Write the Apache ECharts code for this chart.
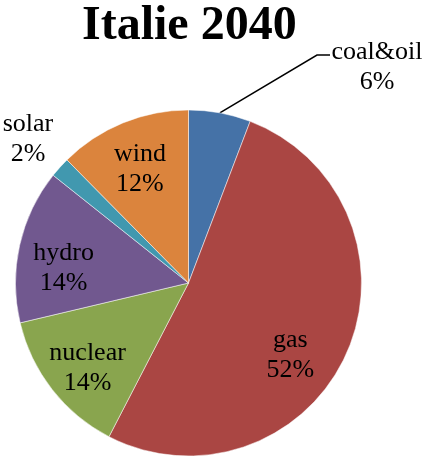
<!DOCTYPE html>
<html>
<head>
<meta charset="utf-8">
<script src="https://cdn.jsdelivr.net/npm/echarts@6/dist/echarts.min.js"></script>
<style>html,body{margin:0;padding:0;background:#fff}#c{width:425px;height:459px}</style>
</head>
<body>
<div id="c"></div>
<script>
var titleText = 'Italie 2040';
var categories = ['coal&oil', 'gas', 'nuclear', 'hydro', 'solar', 'wind'];
var shares = [5.8, 51.8, 13.7, 14.4, 1.9, 12.4];
var colors = ['#4572A7', '#AA4643', '#89A54E', '#71588F', '#4198AF', '#DB843D'];
var outsideLabels = ['coal&oil', 'solar'];

var FONT = '"Liberation Serif", "Times New Roman", serif';
var CX = 188.5, CY = 283, R = 173;

function fmt(p) { return p.name + '\n' + Math.round(p.percent) + '%'; }

var mainData = categories.map(function (c, i) {
  var out = outsideLabels.indexOf(c) >= 0;
  return {
    name: c, value: shares[i],
    itemStyle: { color: colors[i] },
    label: { show: out },
    labelLine: { show: c === 'coal&oil' }
  };
});
var ringData = categories.map(function (c, i) {
  var out = outsideLabels.indexOf(c) >= 0;
  return { name: c, value: shares[i], label: { show: !out } };
});

// small nudges of the inside labels (dx, dy) by data index
var insideNudge = { 1: [-15, 20], 2: [0, 6], 3: [0, 13], 5: [0, 5] };

var chart = echarts.init(document.getElementById('c'), null, { renderer: 'canvas' });
chart.setOption({
  animation: false,
  backgroundColor: '#fff',
  title: {
    text: titleText, left: 77, top: -2,
    textStyle: { fontFamily: FONT, fontWeight: 'bold', fontSize: 48, color: '#000' }
  },
  series: [{
    type: 'pie',
    center: [CX, CY], radius: R,
    startAngle: 90, clockwise: true,
    avoidLabelOverlap: false,
    itemStyle: { borderColor: '#fff', borderWidth: 0.5 },
    label: {
      position: 'outside', formatter: fmt,
      fontFamily: FONT, fontSize: 26, lineHeight: 30, color: '#000'
    },
    labelLine: { show: true, length: 10, length2: 10, lineStyle: { color: '#000', width: 1.5 } },
    labelLayout: function (p) {
      if (p.dataIndex === 0) {
        var s = p.labelLinePoints ? p.labelLinePoints[0] : [219, 113];
        return { x: 377, y: 67, align: 'center', verticalAlign: 'middle',
                 labelLinePoints: [s, [317, 55], [330, 55]] };
      }
      if (p.dataIndex === 4) {
        return { x: 28, y: 139, align: 'center', verticalAlign: 'middle' };
      }
    },
    data: mainData
  }, {
    type: 'pie',
    center: [CX, CY], radius: [77, R],
    startAngle: 90, clockwise: true,
    silent: true,
    avoidLabelOverlap: false,
    itemStyle: { color: 'rgba(0,0,0,0)' },
    label: {
      position: 'inside', formatter: fmt,
      fontFamily: FONT, fontSize: 26, lineHeight: 30, color: '#000'
    },
    labelLine: { show: false },
    labelLayout: function (p) {
      var n = insideNudge[p.dataIndex];
      if (n) return { dx: n[0], dy: n[1] };
    },
    data: ringData
  }]
});
</script>
</body>
</html>
